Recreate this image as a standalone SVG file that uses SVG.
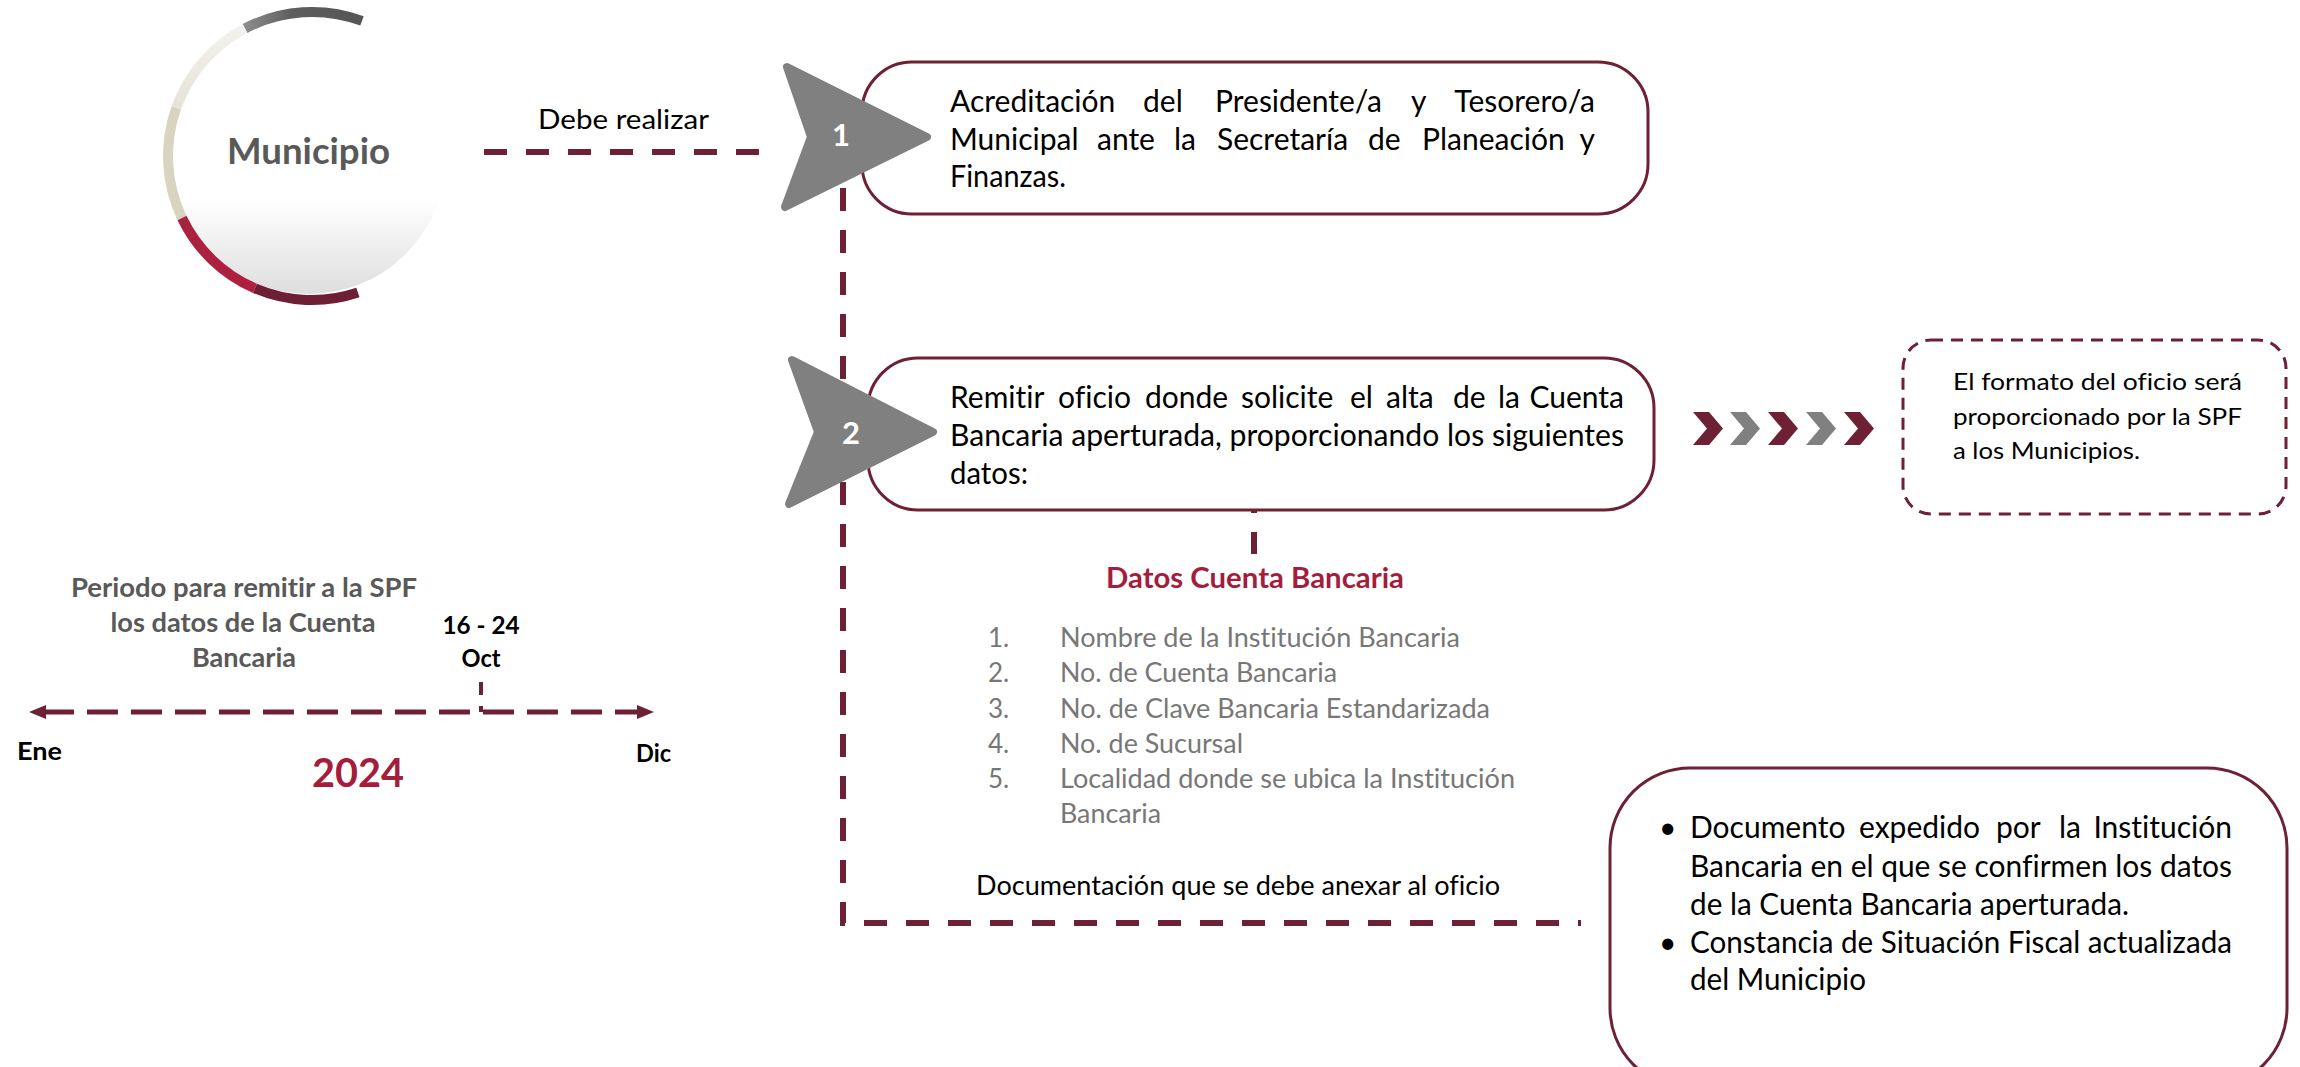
<svg xmlns="http://www.w3.org/2000/svg" width="2300" height="1067" viewBox="0 0 2300 1067">
<defs>
<style>
text{font-family:Lato,"Liberation Sans",sans-serif;font-variant-ligatures:none}
.dash{fill:none;stroke:#6E2035;stroke-width:6;stroke-dasharray:23 19}
.box{fill:#fff;stroke:#6E2035;stroke-width:3}
.bt{font-size:30px;fill:#000}
.lt{font-size:26px;fill:#777777}
.chev{fill:#808080;stroke:#808080;stroke-width:8;stroke-linejoin:round}
.num{font-size:31px;font-weight:bold;fill:#fff;text-anchor:middle}
.tl{font-weight:bold;fill:#595959;font-size:26px;text-anchor:middle}
.blk{font-weight:bold;fill:#000;font-size:25px}
.mc{fill:#6E2035}
.gc{fill:#808080}
</style>
<linearGradient id="disc" x1="0" y1="0" x2="0" y2="1">
<stop offset="0" stop-color="#ffffff"/>
<stop offset="0.65" stop-color="#ffffff"/>
<stop offset="1" stop-color="#dedede"/>
</linearGradient>
<linearGradient id="gArc" x1="0" y1="0" x2="1" y2="0">
<stop offset="0" stop-color="#8c8c8c"/>
<stop offset="0.4" stop-color="#5e5e5e"/>
<stop offset="1" stop-color="#555555"/>
</linearGradient>
<linearGradient id="cArc" x1="0" y1="0" x2="0" y2="1">
<stop offset="0" stop-color="#f2f1ec"/>
<stop offset="1" stop-color="#e6e3d8"/>
</linearGradient>
<linearGradient id="rArc" x1="0" y1="0" x2="1" y2="1">
<stop offset="0" stop-color="#a8233f"/>
<stop offset="1" stop-color="#b01e40"/>
</linearGradient>
</defs>
<rect width="2300" height="1067" fill="#fff"/>

<g id="connectors">
<path class="dash" d="M484,152 H760" stroke-dasharray="24 18"/>
<path class="dash" d="M843,188 V923 H1581"/>
<path class="dash" d="M1254,490 V554" stroke-dasharray="22 20"/>
<line x1="43" y1="712" x2="645" y2="712" stroke="#6E2035" stroke-width="5" stroke-dasharray="31 13"/>
<polygon points="29,712 46,705 46,719" fill="#6E2035"/>
<polygon points="654,712 637,705 637,719" fill="#6E2035"/>
<line x1="481" y1="682" x2="481" y2="712" stroke="#6E2035" stroke-width="4" stroke-dasharray="13 11"/>
<g id="arrows-chevrons">
<path class="mc" d="M1693,412 h16 l14,16.5 l-14,16.5 h-16 l14,-16.5 z"/>
<path class="gc" d="M1730,412 h16 l14,16.5 l-14,16.5 h-16 l14,-16.5 z"/>
<path class="mc" d="M1768,412 h16 l14,16.5 l-14,16.5 h-16 l14,-16.5 z"/>
<path class="gc" d="M1806,412 h16 l14,16.5 l-14,16.5 h-16 l14,-16.5 z"/>
<path class="mc" d="M1844,412 h16 l14,16.5 l-14,16.5 h-16 l14,-16.5 z"/>
</g>
</g>

<g id="municipio">
<circle cx="309" cy="157" r="137" fill="url(#disc)"/>
<path d="M245,28.5 A144,144 0 0 1 362,20.9" fill="none" stroke="url(#gArc)" stroke-width="10"/>
<path d="M176.3,107.9 A144,144 0 0 1 245,28.5" fill="none" stroke="url(#cArc)" stroke-width="10"/>
<path d="M182,218 A144,144 0 0 1 176.3,107.9" fill="none" stroke="#d9d4c0" stroke-width="10"/>
<path d="M255,288.3 A144,144 0 0 1 182,218" fill="none" stroke="url(#rArc)" stroke-width="10"/>
<path d="M357.9,292.5 A144,144 0 0 1 255,288.3" fill="none" stroke="#6E1F33" stroke-width="10"/>
<text x="308.5" y="164" font-size="36" font-weight="bold" fill="#595959" text-anchor="middle" textLength="163" lengthAdjust="spacingAndGlyphs">Municipio</text>
</g>

<g id="label-debe">
<text x="538" y="129" font-size="27" fill="#000" textLength="171" lengthAdjust="spacingAndGlyphs">Debe realizar</text>
</g>

<g id="paso1">
<rect class="box" x="862" y="62" width="786" height="152" rx="50"/>
<polygon class="chev" points="787,67 927,137 785,207 811,137"/>
<text class="num" x="841" y="146">1</text>
<text class="bt" y="112"><tspan x="950">Acreditación</tspan><tspan x="1143">del</tspan><tspan x="1215">Presidente/a</tspan><tspan x="1411">y</tspan><tspan x="1595" text-anchor="end">Tesorero/a</tspan></text>
<text class="bt" y="149.5"><tspan x="950">Municipal</tspan><tspan x="1097">ante</tspan><tspan x="1174">la</tspan><tspan x="1217">Secretaría</tspan><tspan x="1368">de</tspan><tspan x="1422">Planeación</tspan><tspan x="1595" text-anchor="end">y</tspan></text>
<text class="bt" x="950" y="187" textLength="116" lengthAdjust="spacingAndGlyphs">Finanzas.</text>
</g>

<g id="paso2">
<rect class="box" x="868" y="358" width="786" height="152" rx="50"/>
<polygon class="chev" points="792,360 933,432 789,504 818,432"/>
<text class="num" x="851" y="444">2</text>
<text class="bt" y="408"><tspan x="950">Remitir</tspan><tspan x="1058">oficio</tspan><tspan x="1145">donde</tspan><tspan x="1241">solicite</tspan><tspan x="1350">el</tspan><tspan x="1386">alta</tspan><tspan x="1453">de</tspan><tspan x="1498">la</tspan><tspan x="1624" text-anchor="end">Cuenta</tspan></text>
<text class="bt" x="950" y="446" textLength="674" lengthAdjust="spacingAndGlyphs">Bancaria aperturada, proporcionando los siguientes</text>
<text class="bt" x="950" y="484" textLength="78" lengthAdjust="spacingAndGlyphs">datos:</text>
</g>

<g id="nota-formato">
<rect x="1903" y="340" width="383" height="174" rx="28" fill="none" stroke="#6E2035" stroke-width="3" stroke-dasharray="12 8"/>
<text x="1953" y="390" font-size="24" fill="#000" textLength="289" lengthAdjust="spacingAndGlyphs">El formato del oficio será</text>
<text x="1953" y="425" font-size="24" fill="#000" textLength="289" lengthAdjust="spacingAndGlyphs">proporcionado por la SPF</text>
<text x="1953" y="459" font-size="24" fill="#000" textLength="187" lengthAdjust="spacingAndGlyphs">a los Municipios.</text>
</g>

<g id="datos-cuenta">
<text x="1255" y="588" font-size="29" font-weight="bold" fill="#A51D3D" text-anchor="middle" textLength="298" lengthAdjust="spacingAndGlyphs">Datos Cuenta Bancaria</text>
<text class="lt" x="988" y="647">1.</text>
<text class="lt" x="1060" y="647" textLength="400" lengthAdjust="spacingAndGlyphs">Nombre de la Institución Bancaria</text>
<text class="lt" x="988" y="682">2.</text>
<text class="lt" x="1060" y="682" textLength="277" lengthAdjust="spacingAndGlyphs">No. de Cuenta Bancaria</text>
<text class="lt" x="988" y="718">3.</text>
<text class="lt" x="1060" y="718" textLength="430" lengthAdjust="spacingAndGlyphs">No. de Clave Bancaria Estandarizada</text>
<text class="lt" x="988" y="753">4.</text>
<text class="lt" x="1060" y="753" textLength="183" lengthAdjust="spacingAndGlyphs">No. de Sucursal</text>
<text class="lt" x="988" y="788">5.</text>
<text class="lt" x="1060" y="788" textLength="455" lengthAdjust="spacingAndGlyphs">Localidad donde se ubica la Institución</text>
<text class="lt" x="1060" y="823" textLength="101" lengthAdjust="spacingAndGlyphs">Bancaria</text>
</g>

<g id="label-documentacion">
<text x="976" y="895" font-size="27" fill="#000" textLength="524" lengthAdjust="spacingAndGlyphs">Documentación que se debe anexar al oficio</text>
</g>

<g id="documentos">
<rect class="box" x="1610" y="768" width="677" height="320" rx="80"/>
<text class="bt" x="1659" y="838" font-size="24">•</text>
<text class="bt" y="838"><tspan x="1690">Documento</tspan><tspan x="1859">expedido</tspan><tspan x="1996">por</tspan><tspan x="2059">la</tspan><tspan x="2232" text-anchor="end">Institución</tspan></text>
<text class="bt" x="1690" y="877" textLength="542" lengthAdjust="spacingAndGlyphs">Bancaria en el que se confirmen los datos</text>
<text class="bt" x="1690" y="915" textLength="439" lengthAdjust="spacingAndGlyphs">de la Cuenta Bancaria aperturada.</text>
<text class="bt" x="1659" y="953" font-size="24">•</text>
<text class="bt" x="1690" y="953" textLength="542" lengthAdjust="spacingAndGlyphs">Constancia de Situación Fiscal actualizada</text>
<text class="bt" x="1690" y="990" textLength="176" lengthAdjust="spacingAndGlyphs">del Municipio</text>
</g>

<g id="linea-tiempo">
<text class="tl" x="244" y="597" textLength="346" lengthAdjust="spacingAndGlyphs">Periodo para remitir a la SPF</text>
<text class="tl" x="243" y="632" textLength="265" lengthAdjust="spacingAndGlyphs">los datos de la Cuenta</text>
<text class="tl" x="244" y="667" textLength="104" lengthAdjust="spacingAndGlyphs">Bancaria</text>
<text class="blk" x="481" y="634" text-anchor="middle" textLength="77" lengthAdjust="spacingAndGlyphs">16 - 24</text>
<text class="blk" x="481" y="667" text-anchor="middle" textLength="39" lengthAdjust="spacingAndGlyphs">Oct</text>
<text class="blk" x="17" y="760" textLength="45" lengthAdjust="spacingAndGlyphs">Ene</text>
<text class="blk" x="636" y="762" textLength="35" lengthAdjust="spacingAndGlyphs">Dic</text>
<text x="312" y="787" font-family="'Liberation Sans',Arial,sans-serif" font-size="40" font-weight="bold" fill="#A51D3D" textLength="92" lengthAdjust="spacingAndGlyphs">2024</text>
</g>
</svg>
